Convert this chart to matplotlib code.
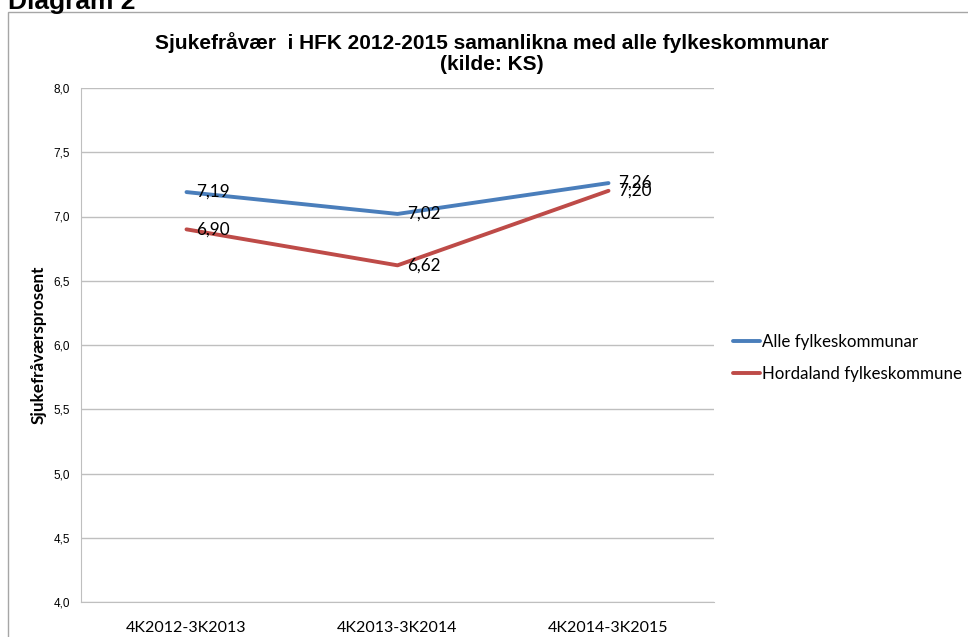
import matplotlib.pyplot as plt
from matplotlib.patches import Rectangle

# data
categories = ["4K2012-3K2013", "4K2013-3K2014", "4K2014-3K2015"]
alle = [7.19, 7.02, 7.26]
hordaland = [6.90, 6.62, 7.20]
series_names = ["Alle fylkeskommunar", "Hordaland fylkeskommune"]
yticks = [4.0, 4.5, 5.0, 5.5, 6.0, 6.5, 7.0, 7.5, 8.0]

blue = '#4A7EBB'
red = '#BE4B48'
body_font = ['Lato', 'DejaVu Sans']
head_font = ['Liberation Sans', 'DejaVu Sans']

fig = plt.figure(figsize=(9.68, 6.37), dpi=100)

# ramme rundt diagrammet
fig.patches.append(Rectangle((8 / 968, -0.05), 1.0, (637 - 12) / 637 + 0.05,
                             transform=fig.transFigure, fill=False,
                             edgecolor='#A6A6A6', linewidth=1))

fig.text(8 / 968, 1 - 9 / 637, "Diagram 2", fontsize=19, fontweight='bold', family=head_font,
         ha='left', va='baseline')
fig.text(492 / 968, 1 - 53 / 637,
         "Sjukefråvær  i HFK 2012-2015 samanlikna med alle fylkeskommunar\n(kilde: KS)",
         fontsize=15, fontweight='bold', family=head_font, ha='center', va='center',
         linespacing=1.08)

ax = fig.add_axes([81 / 968, 1 - 602 / 637, (714 - 81) / 968, (602 - 88) / 637])
x = range(len(categories))
ax.plot(x, alle, color=blue, linewidth=2.8, label=series_names[0], solid_capstyle='round')
ax.plot(x, hordaland, color=red, linewidth=2.8, label=series_names[1], solid_capstyle='round')

for xi, v in zip(x, alle):
    ax.annotate(f"{v:.2f}".replace('.', ','), (xi, v), xytext=(7, 0),
                textcoords='offset points', va='center', ha='left',
                fontsize=12.3, family=body_font)
for xi, v in zip(x, hordaland):
    ax.annotate(f"{v:.2f}".replace('.', ','), (xi, v), xytext=(7, 0),
                textcoords='offset points', va='center', ha='left',
                fontsize=12.3, family=body_font)

ax.set_xlim(-0.5, 2.5)
ax.set_ylim(4.0, 8.0)
ax.set_yticks(yticks)
ax.set_yticklabels([f"{t:.1f}".replace('.', ',') for t in yticks],
                   fontsize=8.5, family=head_font)
ax.set_xticks(list(x))
ax.set_xticklabels(categories, fontsize=11.5, family=body_font)
ax.tick_params(axis='both', length=0)
ax.tick_params(axis='y', pad=8)
ax.tick_params(axis='x', pad=14)
ax.grid(axis='y', color='#BFBFBF', linewidth=1)
ax.set_axisbelow(True)
for s in ['top', 'right']:
    ax.spines[s].set_visible(False)
ax.spines['left'].set_color('#BFBFBF')
ax.spines['bottom'].set_color('#BFBFBF')

ax.set_ylabel("Sjukefråværsprosent", fontsize=12.3, fontweight='bold', family=body_font,
              labelpad=5)

ax.legend(loc='center left', bbox_to_anchor=(733 / 968, 1 - 358 / 637),
          bbox_transform=fig.transFigure, frameon=False, borderpad=0, borderaxespad=0,
          prop={'family': body_font, 'size': 12.2}, handlelength=1.6,
          handletextpad=0.1, labelspacing=0.95)

fig.savefig("out.png", dpi=100)
plt.close()
